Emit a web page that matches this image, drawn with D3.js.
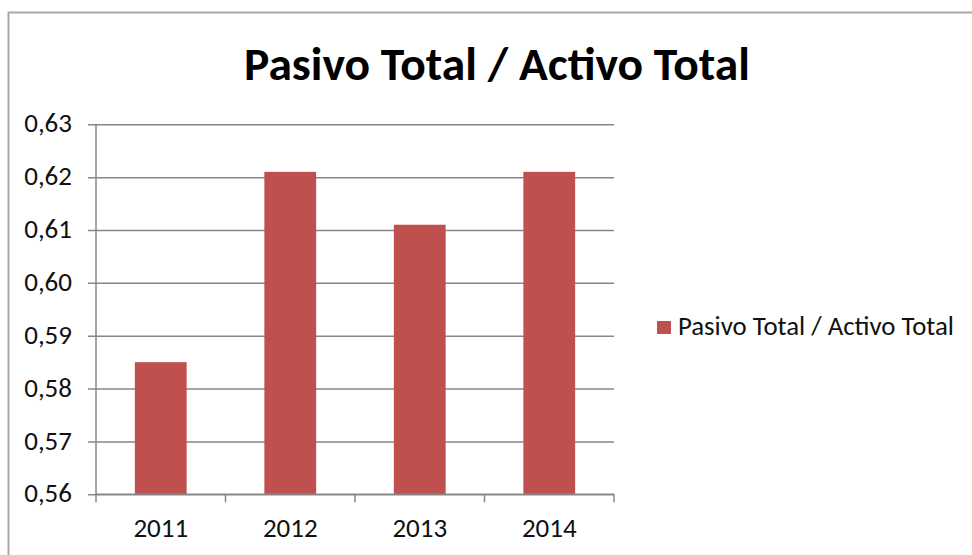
<!DOCTYPE html>
<html>
<head>
<meta charset="utf-8">
<script src="https://cdn.jsdelivr.net/npm/d3@7"></script>
<style>
  html, body { margin: 0; padding: 0; background: #ffffff; }
  svg { display: block; font-family: Carlito, Calibri, Lato, "Open Sans", sans-serif; }
</style>
</head>
<body>
<svg id="chart" width="972" height="555"></svg>
<script>
// Ratio of total liabilities to total assets, per year
const years = ["2011", "2012", "2013", "2014"];
const ratio = [0.585, 0.621, 0.611, 0.621];
const yTicks = [0.56, 0.57, 0.58, 0.59, 0.60, 0.61, 0.62, 0.63];
const chartTitle = "Pasivo Total / Activo Total";
const seriesName = "Pasivo Total / Activo Total";

const barColor = "#C0504D";
const gridColor = "#878787";
const textColor = "#111111";
const fontStack = "Carlito, Calibri, Lato, 'Open Sans', sans-serif";

const svg = d3.select("#chart");

// Outer chart frame
svg.append("path")
  .attr("d", "M8.5,560 L8.5,12.5 L980,12.5")
  .attr("fill", "none")
  .attr("stroke", "#a9a9a9")
  .attr("stroke-width", 2);

const plot = { left: 96, right: 614, top: 124.3, bottom: 494.3 };

const x = d3.scaleBand()
  .domain(years)
  .range([plot.left, plot.right])
  .paddingInner(0.6)
  .paddingOuter(0.3);

const y = d3.scaleLinear()
  .domain([0.56, 0.63])
  .range([plot.bottom, plot.top]);

const es = d3.formatLocale({ decimal: ",", thousands: ".", grouping: [3], currency: ["", "€"] });
const fmt = es.format(".2f");

// Horizontal gridlines with outward ticks and labels
const yAxis = d3.axisLeft(y)
  .tickValues(yTicks)
  .tickFormat(fmt)
  .tickSize(-(plot.right - plot.left))
  .tickSizeOuter(0)
  .tickPadding(24);

const gy = svg.append("g")
  .attr("transform", `translate(${plot.left},0)`)
  .call(yAxis)
  .attr("font-family", fontStack)
  .attr("font-size", 27);
gy.select(".domain").remove();
gy.selectAll(".tick line")
  .attr("x1", -8)
  .attr("stroke", gridColor)
  .attr("stroke-width", 1.5);
gy.selectAll(".tick text")
  .attr("fill", textColor)
  .attr("dy", "0.28em");

// Vertical axis line
svg.append("line")
  .attr("x1", plot.left).attr("x2", plot.left)
  .attr("y1", plot.top).attr("y2", plot.bottom)
  .attr("stroke", gridColor)
  .attr("stroke-width", 1.5);

// Bars
svg.append("g")
  .selectAll("rect")
  .data(years)
  .join("rect")
  .attr("x", d => x(d))
  .attr("width", x.bandwidth())
  .attr("y", (d, i) => y(ratio[i]))
  .attr("height", (d, i) => y(0.56) - y(ratio[i]))
  .attr("fill", barColor);

// Category axis: ticks at band boundaries, labels centred on bands
const step = x.step();
const boundaries = d3.range(years.length + 1).map(i => plot.left + i * step);
const gx = svg.append("g");
gx.append("line")
  .attr("x1", plot.left).attr("x2", plot.right)
  .attr("y1", plot.bottom).attr("y2", plot.bottom)
  .attr("stroke", gridColor).attr("stroke-width", 1.5);
gx.selectAll("line.tk")
  .data(boundaries)
  .join("line")
  .attr("class", "tk")
  .attr("x1", d => d).attr("x2", d => d)
  .attr("y1", plot.bottom).attr("y2", plot.bottom + 8)
  .attr("stroke", gridColor).attr("stroke-width", 1.5);
gx.selectAll("text")
  .data(years)
  .join("text")
  .attr("x", d => x(d) + x.bandwidth() / 2)
  .attr("y", 537)
  .attr("text-anchor", "middle")
  .attr("fill", textColor)
  .style("font-size", "27px")
  .text(d => d);

// Title
svg.append("text")
  .attr("x", 497)
  .attr("y", 80)
  .attr("text-anchor", "middle")
  .attr("fill", "#000")
  .style("font-size", "46px")
  .style("font-weight", "bold")
  .attr("textLength", 506)
  .attr("lengthAdjust", "spacingAndGlyphs")
  .text(chartTitle);

// Legend
const lg = svg.append("g");
lg.append("rect")
  .attr("x", 657).attr("y", 321)
  .attr("width", 14).attr("height", 13)
  .attr("fill", barColor);
lg.append("text")
  .attr("x", 678).attr("y", 335)
  .attr("fill", textColor)
  .style("font-size", "26px")
  .attr("textLength", 276)
  .attr("lengthAdjust", "spacingAndGlyphs")
  .text(seriesName);
</script>
</body>
</html>
